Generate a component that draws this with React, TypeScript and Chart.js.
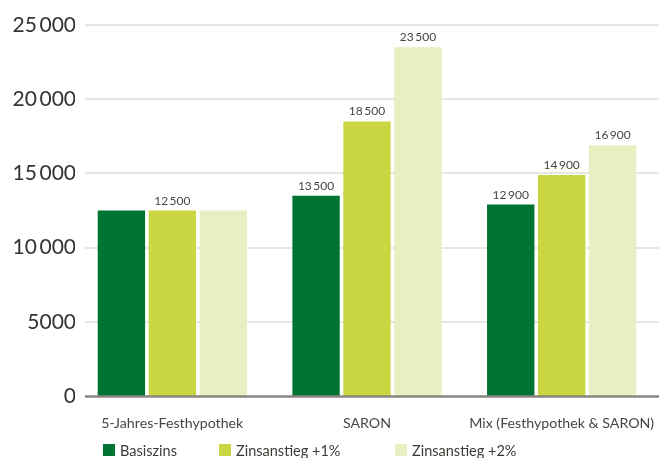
import { useEffect, useRef } from "react";
import { Chart, registerables } from "chart.js";
Chart.register(...registerables);

const categories = ["5-Jahres-Festhypothek", "SARON", "Mix (Festhypothek & SARON)"];
const seriesNames = ["Basiszins", "Zinsanstieg +1%", "Zinsanstieg +2%"];
const basiszins = [12500, 13500, 12900];
const zinsPlus1 = [12500, 18500, 14900];
const zinsPlus2 = [12500, 23500, 16900];
const showBasis = [false, true, true];
const showPlus1 = [true, true, true];
const showPlus2 = [false, true, true];
const seriesColors = ["#007433", "#cad642", "#e7efc3"];
const yMax = 25000;
const yStep = 5000;

const fmt = (v: number) =>
  v >= 10000 ? String(v).replace(/\B(?=(\d{3})+(?!\d))/g, "\u2009") : String(v);

const FONT = "Lato, 'Open Sans', sans-serif";

export default function App() {
  const ref = useRef<HTMLCanvasElement | null>(null);
  useEffect(() => {
    document.body.style.margin = "0";
    const shown = [showBasis, showPlus1, showPlus2];
    const decor = {
      id: "decor",
      beforeDatasetsDraw(chart: any) {
        const ctx = chart.ctx;
        const y = chart.scales.y;
        const { left, right } = chart.chartArea;
        ctx.save();
        ctx.strokeStyle = "#e8e6e2";
        ctx.lineWidth = 2;
        y.ticks.forEach((t: any) => {
          if (t.value === 0) return;
          const py = Math.round(y.getPixelForValue(t.value));
          ctx.beginPath();
          ctx.moveTo(left + 10, py);
          ctx.lineTo(right, py);
          ctx.stroke();
        });
        ctx.restore();
      },
      afterDatasetsDraw(chart: any) {
        const ctx = chart.ctx;
        const y = chart.scales.y;
        const { left, right } = chart.chartArea;
        ctx.save();
        ctx.strokeStyle = "#8a8580";
        ctx.lineWidth = 2.5;
        const py0 = y.getPixelForValue(0) + 0.5;
        ctx.beginPath();
        ctx.moveTo(left + 10, py0);
        ctx.lineTo(right, py0);
        ctx.stroke();
        ctx.fillStyle = "#4a4540";
        ctx.font = `12px ${FONT}`;
        ctx.textAlign = "center";
        ctx.textBaseline = "alphabetic";
        chart.data.datasets.forEach((ds: any, i: number) => {
          const meta = chart.getDatasetMeta(i);
          meta.data.forEach((el: any, j: number) => {
            if (!shown[i][j]) return;
            ctx.fillText(fmt(ds.data[j]), el.x, el.y - 6);
          });
        });
        const xs = [103, 219, 395];
        ctx.font = `14.5px ${FONT}`;
        ctx.textAlign = "left";
        ctx.textBaseline = "middle";
        chart.data.datasets.forEach((ds: any, i: number) => {
          ctx.fillStyle = ds.backgroundColor;
          ctx.fillRect(xs[i], 444, 12, 12);
          ctx.fillStyle = "#3d3a36";
          ctx.fillText(ds.label, xs[i] + 17, 451);
        });
        ctx.restore();
      },
    };
    const chart = new Chart(ref.current as HTMLCanvasElement, {
      type: "bar",
      data: {
        labels: categories,
        datasets: [basiszins, zinsPlus1, zinsPlus2].map((d, i) => ({
          label: seriesNames[i],
          data: d,
          backgroundColor: seriesColors[i],
          borderWidth: 0,
          categoryPercentage: 0.785,
          barPercentage: 0.93,
        })),
      },
      options: {
        animation: false,
        responsive: false,
        devicePixelRatio: 1,
        layout: { padding: { top: 25, left: 0, right: 0, bottom: 0 } },
        plugins: { legend: { display: false }, tooltip: { enabled: false } },
        scales: {
          x: {
            grid: { display: false },
            border: { display: false },
            ticks: {
              color: "#4a4540",
              font: { family: FONT, size: 14.2 },
              padding: 11,
              maxRotation: 0,
              autoSkip: false,
            },
            afterFit: (s: any) => {
              s.height = 62;
              s.paddingLeft = 0;
              s.paddingRight = 0;
            },
          },
          y: {
            min: 0,
            max: yMax,
            grid: { display: false, drawTicks: false },
            border: { display: false },
            ticks: {
              stepSize: yStep,
              color: "#333333",
              font: { family: FONT, size: 21 },
              padding: -1,
              callback: (v: any) => fmt(Number(v)),
            },
            afterFit: (s: any) => {
              s.width = 75;
            },
          },
        },
      },
      plugins: [decor],
    });
    return () => chart.destroy();
  }, []);
  return (
    <div style={{ position: "absolute", left: 0, top: 0, width: 659, height: 458 }}>
      <canvas ref={ref} width={659} height={458} />
    </div>
  );
}
